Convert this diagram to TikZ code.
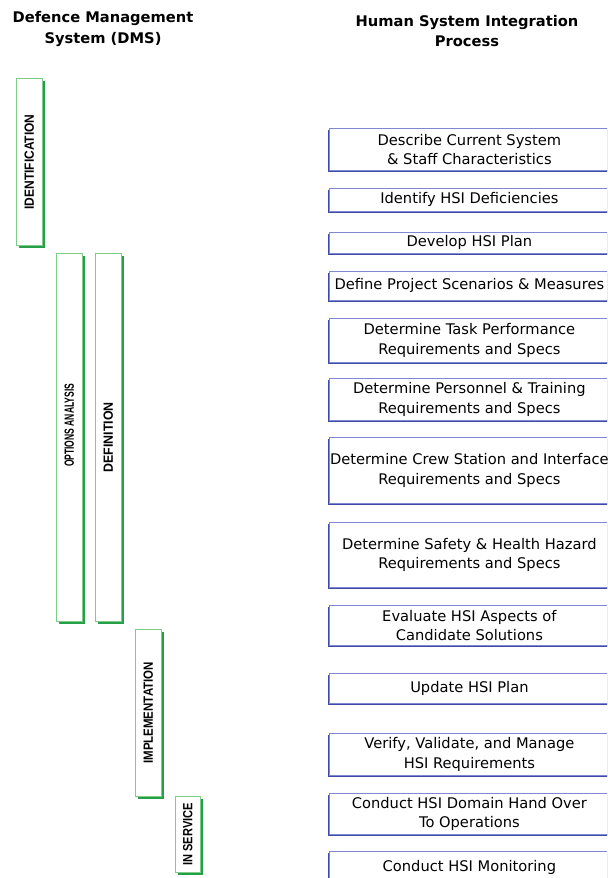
\documentclass[tikz,border=0pt]{standalone}
\usepackage{fontspec}
\setmainfont{DejaVu Sans}
\newfontfamily\phasefont{Liberation Sans}
\usepackage{graphicx}
\usepackage{tikz}
\usetikzlibrary{shadows}
\definecolor{taskline}{RGB}{128,136,210}
\definecolor{taskshade}{RGB}{62,74,166}
\definecolor{phaseline}{RGB}{125,205,135}
\definecolor{phaseshade}{RGB}{38,160,72}
\newcommand{\pxu}{0.75pt}
\newcommand{\phasetext}[2]{\rotatebox{90}{\scalebox{#1}[1]{#2}}}

\begin{document}
\begin{tikzpicture}[
		x=0.75pt, y=-0.75pt,
		font=\fontsize{11}{14.5}\selectfont,
		heading/.style={
			align=center,
			font=\bfseries\fontsize{11}{15.5}\selectfont
		},
		phase/.style={
			rectangle,
			anchor=north west,
			draw=phaseline,
			line width=0.6pt,
			fill=white,
			inner sep=0pt,
			font=\phasefont\bfseries\fontsize{10}{12}\selectfont,
			drop shadow={shadow xshift=1.8pt, shadow yshift=-1.8pt, fill=phaseshade, opacity=1}
		},
		task/.style={
			rectangle,
			anchor=north west,
			draw=taskline,
			line width=0.6pt,
			fill=white,
			inner sep=0pt,
			align=center,
			minimum width=280*\pxu,
			drop shadow={shadow xshift=-1.4pt, shadow yshift=-1.4pt, fill=taskshade, opacity=1}
		}
		]
		\useasboundingbox (0,0) rectangle (607,878);
		\clip (0,0) rectangle (607,878);
		
		% headings of the two columns
		\node [heading] (dms) at (103,29) {Defence Management\\System (DMS)};
		\node [heading] (hsi) at (467,31) {Human System Integration\\Process};
		
		% DMS phases
		\node [phase, minimum width=26*\pxu, minimum height=167*\pxu] (ident) at (16,78)
		{\phasetext{0.9}{IDENTIFICATION}};
		\node [phase, minimum width=26*\pxu, minimum height=368*\pxu] (options) at (56,253)
		{\rotatebox{90}{\hspace*{18pt}\scalebox{0.64}[1]{OPTIONS ANALYSIS}}};
		\node [phase, minimum width=26*\pxu, minimum height=368*\pxu] (definition) at (95,253)
		{\phasetext{0.93}{DEFINITION}};
		\node [phase, minimum width=26*\pxu, minimum height=167*\pxu] (implement) at (135,629)
		{\phasetext{0.86}{IMPLEMENTATION}};
		\node [phase, minimum width=25*\pxu, minimum height=76*\pxu] (inservice) at (175,796)
		{\phasetext{0.83}{IN SERVICE}};
		
		% HSI process steps
		\node [task, minimum height=42*\pxu] (describe) at (329,128)
		{Describe Current System\\\& Staff Characteristics};
		\node [task, minimum height=23*\pxu] (identify) at (329,188)
		{Identify HSI Deficiencies};
		\node [task, minimum height=21*\pxu] (develop) at (329,232)
		{Develop HSI Plan};
		\node [task, minimum height=29*\pxu] (scenarios) at (329,271)
		{Define Project Scenarios \& Measures};
		\node [task, minimum height=44*\pxu] (taskperf) at (329,318)
		{Determine Task Performance\\Requirements and Specs};
		\node [task, minimum height=42*\pxu] (personnel) at (329,378)
		{Determine Personnel \& Training\\Requirements and Specs};
		\node [task, minimum height=66*\pxu] (crew) at (329,437)
		{Determine Crew Station and Interface\\Requirements and Specs};
		\node [task, minimum height=65*\pxu] (safety) at (329,522)
		{Determine Safety \& Health Hazard\\Requirements and Specs};
		\node [task, minimum height=40*\pxu] (evaluate) at (329,605)
		{Evaluate HSI Aspects of\\Candidate Solutions};
		\node [task, minimum height=30*\pxu] (update) at (329,673)
		{Update HSI Plan};
		\node [task, minimum height=42*\pxu] (verify) at (329,733)
		{Verify, Validate, and Manage\\HSI Requirements};
		\node [task, minimum height=41*\pxu] (handover) at (329,793)
		{Conduct HSI Domain Hand Over\\To Operations};
		\node [task, minimum height=32*\pxu] (monitor) at (329,851)
		{Conduct HSI Monitoring};
		
\end{tikzpicture}
\end{document}
